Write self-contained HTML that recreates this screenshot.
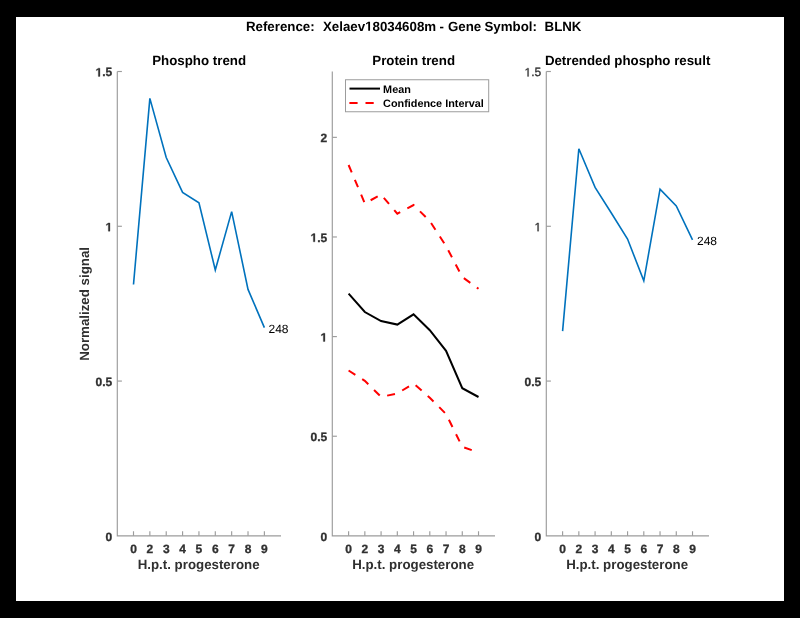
<!DOCTYPE html>
<html><head><meta charset="utf-8"><style>
html,body{margin:0;padding:0;background:#000;}
body{width:800px;height:618px;overflow:hidden;position:relative;font-family:"Liberation Sans", sans-serif;}
svg{position:absolute;left:0;top:0;will-change:transform;}
text{font-family:"Liberation Sans", sans-serif;white-space:pre;font-kerning:none;text-rendering:geometricPrecision;}
</style></head><body>
<svg width="800" height="618" viewBox="0 0 800 618">
<defs><path id="b_one" d="M478 0V1170L140 959V1180L493 1409H759V0Z"/><path id="r_one" d="M515 0V1237L197 1010V1180L530 1409H696V0Z"/></defs>
<rect x="0" y="0" width="800" height="618" fill="#000"/>
<rect x="16" y="17" width="768" height="584" fill="#fff"/>
<text x="245.950" y="30.80" font-size="13.3" font-weight="bold" fill="#000">Reference:</text>
<text x="322.970" y="30.80" font-size="13.3" font-weight="bold" fill="#000">Xelaev</text><g transform="translate(365.123,30.80) scale(0.006494,-0.006494)" fill="#000"><use href="#b_one"/></g><text x="372.520" y="30.80" font-size="13.3" font-weight="bold" fill="#000">8034608m</text>
<text x="439.500" y="30.80" font-size="13.3" font-weight="bold" fill="#000">-</text>
<text x="448.000" y="30.80" font-size="13.3" font-weight="bold" fill="#000">Gene</text>
<text x="484.500" y="30.80" font-size="13.3" font-weight="bold" fill="#000">Symbol:</text>
<text x="544.550" y="30.80" font-size="13.3" font-weight="bold" fill="#000">BLNK</text>
<path d="M117.3,71.5 L117.3,535.85 L281.0,535.85" fill="none" stroke="#9c9c9c" stroke-width="1.15"/>
<text x="105.526" y="540.75" font-size="12" font-weight="bold" fill="#303030" stroke="#303030" stroke-width="0.3" stroke-linejoin="miter">0</text>
<path d="M117.3,381.07 L121.89999999999999,381.07" stroke="#9c9c9c" stroke-width="1.15"/>
<text x="95.518" y="385.97" font-size="12" font-weight="bold" fill="#303030" stroke="#303030" stroke-width="0.3" stroke-linejoin="miter">0.5</text>
<path d="M117.3,226.28 L121.89999999999999,226.28" stroke="#9c9c9c" stroke-width="1.15"/>
<g transform="translate(105.526,231.18) scale(0.005859,-0.005859)" fill="#303030" stroke="#303030" stroke-width="51.2" stroke-linejoin="miter"><use href="#b_one"/></g>
<path d="M117.3,71.50 L121.89999999999999,71.50" stroke="#9c9c9c" stroke-width="1.15"/>
<g transform="translate(95.518,76.40) scale(0.005859,-0.005859)" fill="#303030" stroke="#303030" stroke-width="51.2" stroke-linejoin="miter"><use href="#b_one"/></g><text x="102.192" y="76.40" font-size="12" font-weight="bold" fill="#303030" stroke="#303030" stroke-width="0.3" stroke-linejoin="miter">.5</text>
<path d="M133.50,535.85 L133.50,531.25" stroke="#9c9c9c" stroke-width="1.15"/>
<text x="130.163" y="552.95" font-size="12" font-weight="bold" fill="#303030" stroke="#303030" stroke-width="0.3" stroke-linejoin="miter">0</text>
<path d="M149.86,535.85 L149.86,531.25" stroke="#9c9c9c" stroke-width="1.15"/>
<text x="146.523" y="552.95" font-size="12" font-weight="bold" fill="#303030" stroke="#303030" stroke-width="0.3" stroke-linejoin="miter">2</text>
<path d="M166.22,535.85 L166.22,531.25" stroke="#9c9c9c" stroke-width="1.15"/>
<text x="162.883" y="552.95" font-size="12" font-weight="bold" fill="#303030" stroke="#303030" stroke-width="0.3" stroke-linejoin="miter">3</text>
<path d="M182.58,535.85 L182.58,531.25" stroke="#9c9c9c" stroke-width="1.15"/>
<text x="179.243" y="552.95" font-size="12" font-weight="bold" fill="#303030" stroke="#303030" stroke-width="0.3" stroke-linejoin="miter">4</text>
<path d="M198.94,535.85 L198.94,531.25" stroke="#9c9c9c" stroke-width="1.15"/>
<text x="195.603" y="552.95" font-size="12" font-weight="bold" fill="#303030" stroke="#303030" stroke-width="0.3" stroke-linejoin="miter">5</text>
<path d="M215.30,535.85 L215.30,531.25" stroke="#9c9c9c" stroke-width="1.15"/>
<text x="211.963" y="552.95" font-size="12" font-weight="bold" fill="#303030" stroke="#303030" stroke-width="0.3" stroke-linejoin="miter">6</text>
<path d="M231.66,535.85 L231.66,531.25" stroke="#9c9c9c" stroke-width="1.15"/>
<text x="228.323" y="552.95" font-size="12" font-weight="bold" fill="#303030" stroke="#303030" stroke-width="0.3" stroke-linejoin="miter">7</text>
<path d="M248.02,535.85 L248.02,531.25" stroke="#9c9c9c" stroke-width="1.15"/>
<text x="244.683" y="552.95" font-size="12" font-weight="bold" fill="#303030" stroke="#303030" stroke-width="0.3" stroke-linejoin="miter">8</text>
<path d="M264.38,535.85 L264.38,531.25" stroke="#9c9c9c" stroke-width="1.15"/>
<text x="261.043" y="552.95" font-size="12" font-weight="bold" fill="#303030" stroke="#303030" stroke-width="0.3" stroke-linejoin="miter">9</text>
<text x="137.686" y="569.45" font-size="13.3" font-weight="bold" fill="#303030">H.p.t. progesterone</text>
<text x="152.233" y="65.30" font-size="13.3" font-weight="bold" fill="#000">Phospho trend</text>
<text transform="translate(88.50,303.90) rotate(-90)" x="-56.908" y="0" font-size="13.3" font-weight="bold" fill="#303030">Normalized signal</text>
<path d="M133.50,284.50 L149.86,98.40 L166.22,157.50 L182.58,192.40 L198.94,202.80 L215.30,270.00 L231.66,211.60 L248.02,289.40 L264.38,327.60" fill="none" stroke="#0072BD" stroke-width="1.6" stroke-linejoin="miter"/>
<text x="268.500" y="332.80" font-size="12" font-weight="normal" fill="#000">248</text>
<path d="M332.3,71.5 L332.3,535.85 L495.0,535.85" fill="none" stroke="#9c9c9c" stroke-width="1.15"/>
<text x="320.526" y="540.75" font-size="12" font-weight="bold" fill="#303030" stroke="#303030" stroke-width="0.3" stroke-linejoin="miter">0</text>
<path d="M332.3,436.23 L336.90000000000003,436.23" stroke="#9c9c9c" stroke-width="1.15"/>
<text x="310.518" y="441.12" font-size="12" font-weight="bold" fill="#303030" stroke="#303030" stroke-width="0.3" stroke-linejoin="miter">0.5</text>
<path d="M332.3,336.60 L336.90000000000003,336.60" stroke="#9c9c9c" stroke-width="1.15"/>
<g transform="translate(320.526,341.50) scale(0.005859,-0.005859)" fill="#303030" stroke="#303030" stroke-width="51.2" stroke-linejoin="miter"><use href="#b_one"/></g>
<path d="M332.3,236.97 L336.90000000000003,236.97" stroke="#9c9c9c" stroke-width="1.15"/>
<g transform="translate(310.518,241.87) scale(0.005859,-0.005859)" fill="#303030" stroke="#303030" stroke-width="51.2" stroke-linejoin="miter"><use href="#b_one"/></g><text x="317.192" y="241.87" font-size="12" font-weight="bold" fill="#303030" stroke="#303030" stroke-width="0.3" stroke-linejoin="miter">.5</text>
<path d="M332.3,137.35 L336.90000000000003,137.35" stroke="#9c9c9c" stroke-width="1.15"/>
<text x="320.526" y="142.25" font-size="12" font-weight="bold" fill="#303030" stroke="#303030" stroke-width="0.3" stroke-linejoin="miter">2</text>
<path d="M348.60,535.85 L348.60,531.25" stroke="#9c9c9c" stroke-width="1.15"/>
<text x="345.263" y="552.95" font-size="12" font-weight="bold" fill="#303030" stroke="#303030" stroke-width="0.3" stroke-linejoin="miter">0</text>
<path d="M364.84,535.85 L364.84,531.25" stroke="#9c9c9c" stroke-width="1.15"/>
<text x="361.503" y="552.95" font-size="12" font-weight="bold" fill="#303030" stroke="#303030" stroke-width="0.3" stroke-linejoin="miter">2</text>
<path d="M381.08,535.85 L381.08,531.25" stroke="#9c9c9c" stroke-width="1.15"/>
<text x="377.743" y="552.95" font-size="12" font-weight="bold" fill="#303030" stroke="#303030" stroke-width="0.3" stroke-linejoin="miter">3</text>
<path d="M397.32,535.85 L397.32,531.25" stroke="#9c9c9c" stroke-width="1.15"/>
<text x="393.983" y="552.95" font-size="12" font-weight="bold" fill="#303030" stroke="#303030" stroke-width="0.3" stroke-linejoin="miter">4</text>
<path d="M413.56,535.85 L413.56,531.25" stroke="#9c9c9c" stroke-width="1.15"/>
<text x="410.223" y="552.95" font-size="12" font-weight="bold" fill="#303030" stroke="#303030" stroke-width="0.3" stroke-linejoin="miter">5</text>
<path d="M429.80,535.85 L429.80,531.25" stroke="#9c9c9c" stroke-width="1.15"/>
<text x="426.463" y="552.95" font-size="12" font-weight="bold" fill="#303030" stroke="#303030" stroke-width="0.3" stroke-linejoin="miter">6</text>
<path d="M446.04,535.85 L446.04,531.25" stroke="#9c9c9c" stroke-width="1.15"/>
<text x="442.703" y="552.95" font-size="12" font-weight="bold" fill="#303030" stroke="#303030" stroke-width="0.3" stroke-linejoin="miter">7</text>
<path d="M462.28,535.85 L462.28,531.25" stroke="#9c9c9c" stroke-width="1.15"/>
<text x="458.943" y="552.95" font-size="12" font-weight="bold" fill="#303030" stroke="#303030" stroke-width="0.3" stroke-linejoin="miter">8</text>
<path d="M478.52,535.85 L478.52,531.25" stroke="#9c9c9c" stroke-width="1.15"/>
<text x="475.183" y="552.95" font-size="12" font-weight="bold" fill="#303030" stroke="#303030" stroke-width="0.3" stroke-linejoin="miter">9</text>
<text x="352.186" y="569.45" font-size="13.3" font-weight="bold" fill="#303030">H.p.t. progesterone</text>
<text x="372.269" y="65.30" font-size="13.3" font-weight="bold" fill="#000">Protein trend</text>
<path d="M348.60,165.00 L364.84,203.40 L381.08,194.60 L397.32,213.70 L413.56,205.00 L429.80,221.00 L446.04,246.00 L462.28,277.00 L478.52,288.80" fill="none" stroke="#FF0000" stroke-width="2" stroke-linejoin="miter" stroke-dasharray="8 8.1" stroke-linecap="butt"/>
<path d="M348.60,370.50 L364.84,380.80 L381.08,396.90 L397.32,393.50 L413.56,383.50 L429.80,397.70 L446.04,414.00 L462.28,446.80 L478.52,452.60" fill="none" stroke="#FF0000" stroke-width="2" stroke-linejoin="miter" stroke-dasharray="8 8.1" stroke-linecap="butt"/>
<path d="M348.60,293.60 L364.84,312.00 L381.08,321.10 L397.32,324.60 L413.56,314.30 L429.80,330.20 L446.04,350.80 L462.28,388.20 L478.52,397.00" fill="none" stroke="#000" stroke-width="2" stroke-linejoin="miter"/>
<rect x="345.5" y="79.75" width="143.2" height="32" fill="#fff" stroke="#9c9c9c" stroke-width="1"/>
<path d="M349.5,88.6 L380,88.6" stroke="#000" stroke-width="2"/>
<path d="M349.4,103 L380,103" stroke="#FF0000" stroke-width="2" stroke-dasharray="8.2 7.9"/>
<text x="383.100" y="92.60" font-size="10.85" font-weight="bold" fill="#000">Mean</text>
<text x="383.100" y="106.90" font-size="10.85" font-weight="bold" fill="#000">Confidence Interval</text>
<path d="M546.3,71.5 L546.3,535.85 L709.0,535.85" fill="none" stroke="#9c9c9c" stroke-width="1.15"/>
<text x="534.526" y="540.75" font-size="12" font-weight="bold" fill="#303030" stroke="#303030" stroke-width="0.3" stroke-linejoin="miter">0</text>
<path d="M546.3,381.07 L550.9,381.07" stroke="#9c9c9c" stroke-width="1.15"/>
<text x="524.518" y="385.97" font-size="12" font-weight="bold" fill="#303030" stroke="#303030" stroke-width="0.3" stroke-linejoin="miter">0.5</text>
<path d="M546.3,226.28 L550.9,226.28" stroke="#9c9c9c" stroke-width="1.15"/>
<g transform="translate(534.526,231.18) scale(0.005859,-0.005859)" fill="#303030" stroke="#303030" stroke-width="59.7" stroke-linejoin="miter"><use href="#r_one"/></g>
<path d="M546.3,71.50 L550.9,71.50" stroke="#9c9c9c" stroke-width="1.15"/>
<g transform="translate(524.518,76.40) scale(0.005859,-0.005859)" fill="#303030" stroke="#303030" stroke-width="51.2" stroke-linejoin="miter"><use href="#r_one"/></g><text x="531.192" y="76.40" font-size="12" font-weight="normal" fill="#303030" stroke="#303030" stroke-width="0.3" stroke-linejoin="miter">.5</text>
<path d="M562.60,535.85 L562.60,531.25" stroke="#9c9c9c" stroke-width="1.15"/>
<text x="559.263" y="552.95" font-size="12" font-weight="bold" fill="#303030" stroke="#303030" stroke-width="0.3" stroke-linejoin="miter">0</text>
<path d="M578.84,535.85 L578.84,531.25" stroke="#9c9c9c" stroke-width="1.15"/>
<text x="575.503" y="552.95" font-size="12" font-weight="bold" fill="#303030" stroke="#303030" stroke-width="0.3" stroke-linejoin="miter">2</text>
<path d="M595.08,535.85 L595.08,531.25" stroke="#9c9c9c" stroke-width="1.15"/>
<text x="591.743" y="552.95" font-size="12" font-weight="bold" fill="#303030" stroke="#303030" stroke-width="0.3" stroke-linejoin="miter">3</text>
<path d="M611.32,535.85 L611.32,531.25" stroke="#9c9c9c" stroke-width="1.15"/>
<text x="607.983" y="552.95" font-size="12" font-weight="bold" fill="#303030" stroke="#303030" stroke-width="0.3" stroke-linejoin="miter">4</text>
<path d="M627.56,535.85 L627.56,531.25" stroke="#9c9c9c" stroke-width="1.15"/>
<text x="624.223" y="552.95" font-size="12" font-weight="bold" fill="#303030" stroke="#303030" stroke-width="0.3" stroke-linejoin="miter">5</text>
<path d="M643.80,535.85 L643.80,531.25" stroke="#9c9c9c" stroke-width="1.15"/>
<text x="640.463" y="552.95" font-size="12" font-weight="bold" fill="#303030" stroke="#303030" stroke-width="0.3" stroke-linejoin="miter">6</text>
<path d="M660.04,535.85 L660.04,531.25" stroke="#9c9c9c" stroke-width="1.15"/>
<text x="656.703" y="552.95" font-size="12" font-weight="bold" fill="#303030" stroke="#303030" stroke-width="0.3" stroke-linejoin="miter">7</text>
<path d="M676.28,535.85 L676.28,531.25" stroke="#9c9c9c" stroke-width="1.15"/>
<text x="672.943" y="552.95" font-size="12" font-weight="bold" fill="#303030" stroke="#303030" stroke-width="0.3" stroke-linejoin="miter">8</text>
<path d="M692.52,535.85 L692.52,531.25" stroke="#9c9c9c" stroke-width="1.15"/>
<text x="689.183" y="552.95" font-size="12" font-weight="bold" fill="#303030" stroke="#303030" stroke-width="0.3" stroke-linejoin="miter">9</text>
<text x="566.186" y="569.45" font-size="13.3" font-weight="bold" fill="#303030">H.p.t. progesterone</text>
<text x="544.889" y="65.30" font-size="13.3" font-weight="bold" fill="#000">Detrended phospho result</text>
<path d="M562.60,331.10 L578.84,148.80 L595.08,187.40 L611.32,213.00 L627.56,239.00 L643.80,280.90 L660.04,189.10 L676.28,206.00 L692.52,239.80" fill="none" stroke="#0072BD" stroke-width="1.6" stroke-linejoin="miter"/>
<text x="697.000" y="244.90" font-size="12" font-weight="normal" fill="#000">248</text>
</svg>
</body></html>
